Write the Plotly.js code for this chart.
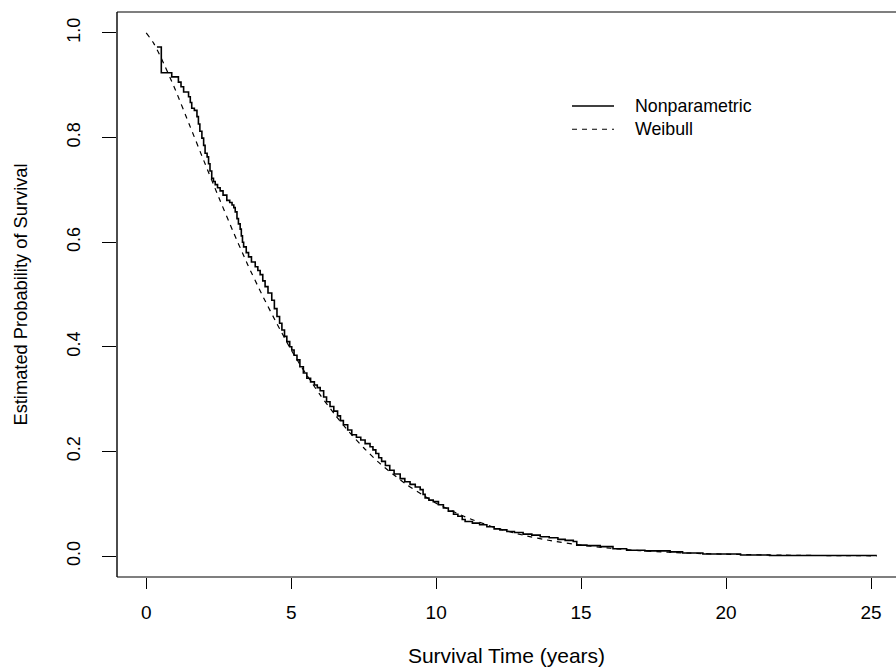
<!DOCTYPE html>
<html>
<head>
<meta charset="utf-8">
<script src="https://cdn.plot.ly/plotly-3.0.1.min.js"></script>
<style>
html, body { margin: 0; padding: 0; background: #fff; }
#chart { width: 896px; height: 669px; }
</style>
</head>
<body>
<div id="chart"></div>
<script>
// Kaplan-Meier (nonparametric) estimate: step start times and survival values
const kmTime = [0.37, 0.52, 0.88, 1.11, 1.20, 1.29, 1.46, 1.52, 1.57, 1.66, 1.75, 1.80, 1.85, 1.92, 1.98, 2.03, 2.10, 2.15, 2.20, 2.26, 2.32, 2.38, 2.46, 2.55, 2.65, 2.78, 2.88, 2.96, 3.02, 3.07, 3.13, 3.18, 3.24, 3.28, 3.32, 3.36, 3.45, 3.53, 3.63, 3.76, 3.85, 3.93, 4.02, 4.10, 4.20, 4.33, 4.42, 4.51, 4.60, 4.68, 4.77, 4.85, 4.95, 5.02, 5.10, 5.20, 5.30, 5.42, 5.54, 5.67, 5.80, 5.90, 6.00, 6.12, 6.22, 6.34, 6.47, 6.60, 6.70, 6.80, 6.95, 7.09, 7.25, 7.40, 7.55, 7.72, 7.82, 7.92, 8.02, 8.12, 8.25, 8.40, 8.55, 8.76, 8.92, 9.10, 9.28, 9.45, 9.55, 9.62, 9.75, 9.90, 10.08, 10.25, 10.42, 10.60, 10.75, 10.90, 11.00, 11.25, 11.50, 11.75, 12.00, 12.20, 12.44, 12.70, 13.00, 13.30, 13.59, 13.90, 14.20, 14.45, 14.73, 14.85, 15.20, 15.66, 16.10, 16.57, 17.20, 18.07, 18.50, 19.20, 20.50, 21.50, 25.20];
const kmSurv = [0.973, 0.924, 0.916, 0.906, 0.897, 0.887, 0.878, 0.867, 0.856, 0.852, 0.840, 0.826, 0.812, 0.799, 0.785, 0.770, 0.763, 0.750, 0.736, 0.722, 0.716, 0.710, 0.704, 0.698, 0.690, 0.680, 0.676, 0.671, 0.666, 0.658, 0.645, 0.635, 0.625, 0.612, 0.600, 0.591, 0.580, 0.572, 0.562, 0.553, 0.546, 0.538, 0.526, 0.515, 0.503, 0.489, 0.473, 0.458, 0.445, 0.432, 0.420, 0.410, 0.400, 0.394, 0.384, 0.375, 0.362, 0.350, 0.340, 0.333, 0.327, 0.322, 0.316, 0.304, 0.295, 0.286, 0.277, 0.268, 0.259, 0.251, 0.241, 0.232, 0.227, 0.222, 0.215, 0.209, 0.203, 0.196, 0.188, 0.181, 0.173, 0.164, 0.157, 0.148, 0.142, 0.137, 0.132, 0.127, 0.118, 0.111, 0.107, 0.104, 0.098, 0.092, 0.086, 0.080, 0.076, 0.070, 0.066, 0.063, 0.060, 0.056, 0.052, 0.050, 0.047, 0.045, 0.042, 0.040, 0.037, 0.035, 0.032, 0.030, 0.028, 0.021, 0.020, 0.018, 0.014, 0.011, 0.010, 0.008, 0.006, 0.004, 0.002, 0.001, 0.001];

// Fitted Weibull survival curve
const wbTime = [0, 0.25, 0.5, 1, 1.5, 2, 2.5, 3, 3.5, 4, 4.5, 5, 5.5, 6, 6.5, 7, 7.5, 8, 8.5, 9, 9.5, 10, 11, 12, 13, 14, 15, 16, 17, 18, 19, 20, 22, 24, 25.2];
const wbSurv = [1.000, 0.981, 0.954, 0.892, 0.823, 0.754, 0.686, 0.620, 0.557, 0.499, 0.445, 0.394, 0.349, 0.308, 0.271, 0.237, 0.207, 0.180, 0.157, 0.136, 0.118, 0.101, 0.075, 0.055, 0.040, 0.029, 0.021, 0.015, 0.0105, 0.0074, 0.0051, 0.0036, 0.0017, 0.0008, 0.0005];

const xTicks = [0, 5, 10, 15, 20, 25];
const yTicks = [0, 0.2, 0.4, 0.6, 0.8, 1.0];
const yTickText = ['0.0', '0.2', '0.4', '0.6', '0.8', '1.0'];
const seriesNames = ['Nonparametric', 'Weibull'];

const FONT = 'Liberation Sans, Arial, Helvetica, sans-serif';

const traces = [
  {
    x: kmTime, y: kmSurv, type: 'scatter', mode: 'lines', name: seriesNames[0],
    line: { color: '#000', width: 1.6, shape: 'hv' }, showlegend: false
  },
  {
    x: wbTime, y: wbSurv, type: 'scatter', mode: 'lines', name: seriesNames[1],
    line: { color: '#000', width: 1.2, dash: '5px,5px', shape: 'spline', smoothing: 0.6 }, showlegend: false
  }
];

// plot area: x 117..896 (779 px), y 12..577 (565 px)
const legY = [0.8336, 0.7924];
const legX = [0.5841, 0.6380, 0.6625];
const legendShapes = [
  { type: 'line', xref: 'paper', yref: 'paper', x0: legX[0], x1: legX[1], y0: legY[0], y1: legY[0], line: { color: '#000', width: 1.3 } },
  { type: 'line', xref: 'paper', yref: 'paper', x0: legX[0], x1: legX[1], y0: legY[1], y1: legY[1], line: { color: '#000', width: 1.1, dash: '5px,5px' } }
];
const legendAnn = seriesNames.map((n, i) => ({
  xref: 'paper', yref: 'paper', x: legX[2], y: legY[i], xanchor: 'left', yanchor: 'middle',
  text: n, showarrow: false, font: { family: FONT, size: 17.8, color: '#000' }
}));

const layout = {
  width: 896, height: 669,
  margin: { l: 117, r: 0, t: 12, b: 92 },
  paper_bgcolor: '#fff', plot_bgcolor: '#fff',
  font: { family: FONT, color: '#000', size: 18 },
  showlegend: false,
  xaxis: {
    range: [-1.008, 25.862], tickmode: 'array', tickvals: xTicks,
    ticks: 'outside', ticklen: 11, tickwidth: 1, tickcolor: '#000',
    showgrid: false, zeroline: false, showline: false,
    tickfont: { family: FONT, size: 19, color: '#000' },
    ticklabelstandoff: 7,
    title: { text: 'Survival Time (years)', font: { family: FONT, size: 21, color: '#000' }, standoff: 26 }
  },
  yaxis: {
    range: [-0.04, 1.04], tickmode: 'array', tickvals: yTicks, ticktext: yTickText,
    ticks: 'outside', ticklen: 14, tickwidth: 1, tickcolor: '#000', tickangle: -90,
    showgrid: false, zeroline: false, showline: false,
    tickfont: { family: FONT, size: 18, color: '#000' },
    ticklabelstandoff: 15,
    title: { text: 'Estimated Probability of Survival', font: { family: FONT, size: 18.3, color: '#000' }, standoff: 31 }
  },
  shapes: [
    { type: 'line', xref: 'paper', yref: 'paper', x0: 0, x1: 1, y0: 1, y1: 1, line: { color: '#000', width: 1.2 }, layer: 'above' },
    { type: 'line', xref: 'paper', yref: 'paper', x0: 0, x1: 1, y0: 0, y1: 0, line: { color: '#000', width: 1.2 }, layer: 'above' },
    { type: 'line', xref: 'paper', yref: 'paper', x0: 0, x1: 0, y0: 0, y1: 1, line: { color: '#000', width: 1.4 }, layer: 'above' }
  ].concat(legendShapes),
  annotations: legendAnn
};

Plotly.newPlot('chart', traces, layout, { displayModeBar: false, staticPlot: true });
</script>
</body>
</html>
